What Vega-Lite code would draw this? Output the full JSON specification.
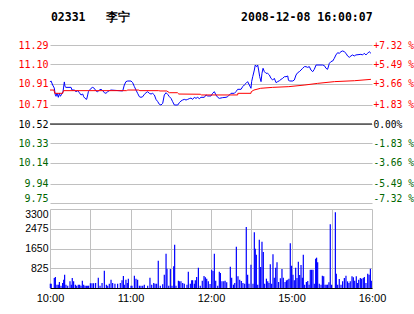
{
  "$schema": "https://vega.github.io/schema/vega-lite/v6.json",
  "background": "white",
  "padding": {"left": 17, "top": 11, "right": 0, "bottom": 0},
  "title": {
    "text": "02331\u00a0\u00a0\u00a0李宁\u00a0\u00a0\u00a0\u00a0\u00a0\u00a0\u00a0\u00a0\u00a0\u00a0\u00a0\u00a0\u00a0\u00a0\u00a0\u00a02008-12-08 16:00:07",
    "anchor": "start",
    "font": "DejaVu Sans Mono",
    "fontSize": 11.5,
    "fontWeight": "bold",
    "color": "#000000",
    "offset": 17,
    "dx": 33
  },
  "spacing": 6,
  "bounds": "flush",
  "config": {
    "view": {"stroke": null},
    "axis": {
      "labelFont": "DejaVu Sans Mono",
      "labelFontSize": 10,
      "ticks": false,
      "domain": false,
      "gridColor": "#C0C0C0",
      "gridOpacity": 1,
      "gridWidth": 1,
      "labelFlush": false,
      "title": null
    }
  },
  "datasets": {
    "price": [
      {"t": 0, "p": 10.93}, {"t": 0.75, "p": 10.94}, {"t": 2, "p": 10.9}, {"t": 3.2, "p": 10.87}, {"t": 4, "p": 10.8},
      {"t": 4.5, "p": 10.79}, {"t": 5.2, "p": 10.82}, {"t": 6.2, "p": 10.78}, {"t": 7, "p": 10.82}, {"t": 7.7, "p": 10.79},
      {"t": 8.7, "p": 10.81}, {"t": 9.7, "p": 10.835}, {"t": 10.7, "p": 10.93}, {"t": 11.2, "p": 10.885}, {"t": 11.9, "p": 10.877},
      {"t": 15.7, "p": 10.877}, {"t": 16.4, "p": 10.851}, {"t": 18.1, "p": 10.851}, {"t": 19.4, "p": 10.835}, {"t": 20.6, "p": 10.845},
      {"t": 21.9, "p": 10.825}, {"t": 23.1, "p": 10.803}, {"t": 24.4, "p": 10.812}, {"t": 25.1, "p": 10.786}, {"t": 26.1, "p": 10.77},
      {"t": 27.3, "p": 10.76}, {"t": 28.1, "p": 10.803}, {"t": 28.6, "p": 10.835}, {"t": 30.6, "p": 10.868}, {"t": 31.8, "p": 10.877},
      {"t": 33, "p": 10.868}, {"t": 34.3, "p": 10.842}, {"t": 35.5, "p": 10.835}, {"t": 36.8, "p": 10.851}, {"t": 38, "p": 10.858},
      {"t": 39.3, "p": 10.845}, {"t": 40.5, "p": 10.825}, {"t": 41.7, "p": 10.819}, {"t": 43, "p": 10.835}, {"t": 44.2, "p": 10.845},
      {"t": 45.5, "p": 10.851}, {"t": 54.2, "p": 10.842}, {"t": 55.4, "p": 10.9}, {"t": 56.6, "p": 10.933}, {"t": 57.9, "p": 10.939},
      {"t": 60.4, "p": 10.939}, {"t": 61.6, "p": 10.923}, {"t": 62.9, "p": 10.884}, {"t": 64.1, "p": 10.851}, {"t": 65.3, "p": 10.819},
      {"t": 66.6, "p": 10.786}, {"t": 67.8, "p": 10.78}, {"t": 69.1, "p": 10.786}, {"t": 70.3, "p": 10.809}, {"t": 71.6, "p": 10.825},
      {"t": 72.8, "p": 10.835}, {"t": 74, "p": 10.819}, {"t": 75.3, "p": 10.812}, {"t": 76.5, "p": 10.819}, {"t": 77.8, "p": 10.803},
      {"t": 79, "p": 10.76}, {"t": 80.3, "p": 10.738}, {"t": 81.5, "p": 10.712}, {"t": 82.7, "p": 10.705}, {"t": 84, "p": 10.721},
      {"t": 85.2, "p": 10.803}, {"t": 86.5, "p": 10.825}, {"t": 87.7, "p": 10.809}, {"t": 89, "p": 10.786}, {"t": 90.2, "p": 10.77},
      {"t": 91.4, "p": 10.738}, {"t": 92.7, "p": 10.705}, {"t": 95.2, "p": 10.705}, {"t": 96.4, "p": 10.728}, {"t": 97.6, "p": 10.744},
      {"t": 98.9, "p": 10.754}, {"t": 100.1, "p": 10.76}, {"t": 101.4, "p": 10.754}, {"t": 102.6, "p": 10.76}, {"t": 103.8, "p": 10.767},
      {"t": 105.1, "p": 10.773}, {"t": 106.3, "p": 10.76}, {"t": 107.6, "p": 10.78}, {"t": 108.8, "p": 10.77}, {"t": 110.1, "p": 10.78},
      {"t": 111.3, "p": 10.767}, {"t": 112.5, "p": 10.78}, {"t": 115, "p": 10.78}, {"t": 116.3, "p": 10.803}, {"t": 117.5, "p": 10.793},
      {"t": 120, "p": 10.793}, {"t": 121.2, "p": 10.819}, {"t": 122.5, "p": 10.835}, {"t": 123.7, "p": 10.803}, {"t": 125, "p": 10.78},
      {"t": 126.2, "p": 10.77}, {"t": 128.7, "p": 10.777}, {"t": 131.2, "p": 10.78}, {"t": 132.4, "p": 10.786}, {"t": 133.7, "p": 10.803},
      {"t": 134.9, "p": 10.819}, {"t": 137.4, "p": 10.819}, {"t": 138.6, "p": 10.835}, {"t": 139.9, "p": 10.858}, {"t": 142.4, "p": 10.858},
      {"t": 143.6, "p": 10.884}, {"t": 144.8, "p": 10.9}, {"t": 146.1, "p": 10.916}, {"t": 147.3, "p": 10.933}, {"t": 148.6, "p": 10.9},
      {"t": 149.8, "p": 10.868}, {"t": 150.3, "p": 10.933}, {"t": 151.1, "p": 10.981}, {"t": 152.3, "p": 11.046}, {"t": 153, "p": 11.095},
      {"t": 154, "p": 11.079}, {"t": 154.8, "p": 11.095}, {"t": 155.5, "p": 11.046}, {"t": 156.3, "p": 10.981}, {"t": 157.3, "p": 10.933},
      {"t": 158, "p": 11.014}, {"t": 158.8, "p": 11.063}, {"t": 159.8, "p": 11.03}, {"t": 161, "p": 11.014}, {"t": 162.2, "p": 11.014},
      {"t": 163.5, "p": 10.998}, {"t": 164.7, "p": 10.965}, {"t": 166, "p": 10.949}, {"t": 167.2, "p": 10.965}, {"t": 168.5, "p": 10.923},
      {"t": 169.7, "p": 10.933}, {"t": 171, "p": 10.942}, {"t": 172.2, "p": 10.955}, {"t": 173.4, "p": 10.965}, {"t": 174.7, "p": 10.981},
      {"t": 175.9, "p": 10.981}, {"t": 177.2, "p": 10.988}, {"t": 177.7, "p": 10.949}, {"t": 178.4, "p": 10.939}, {"t": 180.9, "p": 10.939},
      {"t": 182.1, "p": 10.949}, {"t": 183.4, "p": 10.998}, {"t": 184.6, "p": 11.02}, {"t": 185.8, "p": 11.03}, {"t": 187.1, "p": 11.046},
      {"t": 188.3, "p": 11.063}, {"t": 189.6, "p": 11.079}, {"t": 190.8, "p": 11.079}, {"t": 192, "p": 11.072}, {"t": 193.3, "p": 11.079},
      {"t": 194.5, "p": 11.046}, {"t": 195.8, "p": 11.03}, {"t": 197, "p": 11.053}, {"t": 198.3, "p": 11.095}, {"t": 203.2, "p": 11.095},
      {"t": 204.5, "p": 11.089}, {"t": 205.7, "p": 11.063}, {"t": 206.9, "p": 11.053}, {"t": 208.2, "p": 11.111}, {"t": 209.4, "p": 11.128},
      {"t": 210.7, "p": 11.134}, {"t": 211.9, "p": 11.16}, {"t": 213.1, "p": 11.193}, {"t": 214.4, "p": 11.215}, {"t": 215.6, "p": 11.209},
      {"t": 216.9, "p": 11.225}, {"t": 218.1, "p": 11.232}, {"t": 219.3, "p": 11.225}, {"t": 220.6, "p": 11.209}, {"t": 221.8, "p": 11.183},
      {"t": 223.1, "p": 11.17}, {"t": 224.3, "p": 11.183}, {"t": 225.5, "p": 11.193}, {"t": 226.8, "p": 11.183}, {"t": 228, "p": 11.193},
      {"t": 231.7, "p": 11.199}, {"t": 233, "p": 11.193}, {"t": 234.2, "p": 11.209}, {"t": 235.5, "p": 11.193}, {"t": 236.7, "p": 11.209},
      {"t": 237.9, "p": 11.225}, {"t": 239.2, "p": 11.209}
    ],
    "avg": [
      {"t": 0, "a": 10.851}, {"t": 3, "a": 10.851}, {"t": 3.5, "a": 10.819}, {"t": 9.5, "a": 10.819}, {"t": 10, "a": 10.845},
      {"t": 57, "a": 10.845}, {"t": 58, "a": 10.851}, {"t": 66, "a": 10.851}, {"t": 67, "a": 10.845}, {"t": 81, "a": 10.845},
      {"t": 82, "a": 10.842}, {"t": 87, "a": 10.842}, {"t": 89, "a": 10.825}, {"t": 95, "a": 10.825}, {"t": 96, "a": 10.812},
      {"t": 112, "a": 10.81}, {"t": 113, "a": 10.803}, {"t": 139.9, "a": 10.803}, {"t": 140, "a": 10.819}, {"t": 149.8, "a": 10.819},
      {"t": 150, "a": 10.835}, {"t": 152, "a": 10.851}, {"t": 157, "a": 10.868}, {"t": 166, "a": 10.877}, {"t": 178, "a": 10.884},
      {"t": 190, "a": 10.9}, {"t": 199.5, "a": 10.916}, {"t": 212, "a": 10.933}, {"t": 227, "a": 10.942}, {"t": 239.2, "a": 10.955}
    ],
    "vol": [
      {"t": 0.25, "v": 181}, {"t": 0.9, "v": 181}, {"t": 3.2, "v": 418}, {"t": 4.0, "v": 459}, {"t": 5.2, "v": 139}, {"t": 6.2, "v": 139},
      {"t": 7.0, "v": 250}, {"t": 8.2, "v": 97}, {"t": 9.4, "v": 209}, {"t": 10.2, "v": 348}, {"t": 10.9, "v": 557}, {"t": 11.9, "v": 139},
      {"t": 13.2, "v": 97}, {"t": 14.9, "v": 278}, {"t": 15.9, "v": 139}, {"t": 16.6, "v": 418}, {"t": 17.6, "v": 278}, {"t": 18.9, "v": 139},
      {"t": 19.9, "v": 97}, {"t": 21.1, "v": 139}, {"t": 22.1, "v": 139}, {"t": 23.1, "v": 97}, {"t": 24.1, "v": 306}, {"t": 25.1, "v": 139},
      {"t": 26.1, "v": 97}, {"t": 27.1, "v": 97}, {"t": 28.1, "v": 97}, {"t": 28.8, "v": 97}, {"t": 30.1, "v": 195}, {"t": 31.3, "v": 195},
      {"t": 32.5, "v": 195}, {"t": 34.0, "v": 209}, {"t": 36.0, "v": 432}, {"t": 37.3, "v": 97}, {"t": 38.8, "v": 209}, {"t": 40.5, "v": 724},
      {"t": 42.0, "v": 139}, {"t": 43.0, "v": 97}, {"t": 44.2, "v": 181}, {"t": 45.5, "v": 348}, {"t": 46.7, "v": 209}, {"t": 48.4, "v": 181},
      {"t": 50.4, "v": 181}, {"t": 52.4, "v": 209}, {"t": 53.7, "v": 320}, {"t": 54.7, "v": 501}, {"t": 55.4, "v": 139}, {"t": 56.6, "v": 348},
      {"t": 57.6, "v": 209}, {"t": 58.4, "v": 390}, {"t": 60.4, "v": 97}, {"t": 61.1, "v": 97}, {"t": 62.9, "v": 515}, {"t": 64.1, "v": 390},
      {"t": 65.3, "v": 348}, {"t": 66.6, "v": 97}, {"t": 67.8, "v": 97}, {"t": 69.1, "v": 97}, {"t": 70.3, "v": 139}, {"t": 72.8, "v": 97},
      {"t": 74.5, "v": 432}, {"t": 75.8, "v": 139}, {"t": 77.3, "v": 209}, {"t": 78.3, "v": 181}, {"t": 79.5, "v": 181}, {"t": 80.7, "v": 1141},
      {"t": 82.2, "v": 97}, {"t": 84.0, "v": 153}, {"t": 85.2, "v": 557}, {"t": 86.5, "v": 1434}, {"t": 87.2, "v": 807}, {"t": 88.5, "v": 97},
      {"t": 89.7, "v": 793}, {"t": 90.9, "v": 97}, {"t": 92.2, "v": 905}, {"t": 92.9, "v": 1810}, {"t": 93.9, "v": 97}, {"t": 95.7, "v": 306},
      {"t": 96.4, "v": 278}, {"t": 97.6, "v": 278}, {"t": 98.9, "v": 209}, {"t": 100.1, "v": 181}, {"t": 102.1, "v": 139}, {"t": 103.1, "v": 682},
      {"t": 104.6, "v": 181}, {"t": 105.6, "v": 320}, {"t": 106.3, "v": 320}, {"t": 107.6, "v": 181}, {"t": 108.3, "v": 320}, {"t": 109.3, "v": 459},
      {"t": 110.6, "v": 849}, {"t": 112.0, "v": 97}, {"t": 113.5, "v": 306}, {"t": 114.8, "v": 501}, {"t": 115.8, "v": 445}, {"t": 116.8, "v": 390},
      {"t": 118.0, "v": 278}, {"t": 119.3, "v": 167}, {"t": 120.5, "v": 766}, {"t": 121.5, "v": 710}, {"t": 122.5, "v": 1434}, {"t": 123.5, "v": 306},
      {"t": 125.0, "v": 97}, {"t": 126.2, "v": 682}, {"t": 127.0, "v": 626}, {"t": 128.2, "v": 278}, {"t": 129.5, "v": 278}, {"t": 130.5, "v": 306},
      {"t": 131.7, "v": 237}, {"t": 134.4, "v": 891}, {"t": 135.4, "v": 431}, {"t": 136.7, "v": 139}, {"t": 137.7, "v": 209}, {"t": 138.9, "v": 1726},
      {"t": 140.1, "v": 487}, {"t": 141.4, "v": 348}, {"t": 142.6, "v": 292}, {"t": 143.8, "v": 209}, {"t": 145.1, "v": 181}, {"t": 146.3, "v": 2547},
      {"t": 147.3, "v": 557}, {"t": 148.3, "v": 181}, {"t": 149.8, "v": 974}, {"t": 151.3, "v": 181}, {"t": 152.3, "v": 2325}, {"t": 153.0, "v": 1642},
      {"t": 153.8, "v": 1392}, {"t": 154.8, "v": 139}, {"t": 156.0, "v": 2018}, {"t": 157.0, "v": 877}, {"t": 158.0, "v": 1935}, {"t": 159.0, "v": 1503},
      {"t": 160.0, "v": 181}, {"t": 161.3, "v": 390}, {"t": 162.3, "v": 278}, {"t": 163.2, "v": 209}, {"t": 164.2, "v": 988}, {"t": 165.2, "v": 181},
      {"t": 166.2, "v": 1406}, {"t": 167.2, "v": 431}, {"t": 168.2, "v": 849}, {"t": 169.2, "v": 1072}, {"t": 170.4, "v": 250}, {"t": 171.7, "v": 404},
      {"t": 172.9, "v": 793}, {"t": 173.9, "v": 431}, {"t": 175.2, "v": 250}, {"t": 176.2, "v": 320}, {"t": 177.2, "v": 348}, {"t": 178.1, "v": 390},
      {"t": 179.1, "v": 1865}, {"t": 180.1, "v": 932}, {"t": 181.1, "v": 557}, {"t": 182.1, "v": 320}, {"t": 183.1, "v": 849}, {"t": 184.1, "v": 417},
      {"t": 185.1, "v": 1100}, {"t": 186.1, "v": 543}, {"t": 187.1, "v": 960}, {"t": 188.1, "v": 431}, {"t": 188.8, "v": 1392}, {"t": 189.8, "v": 139},
      {"t": 191.1, "v": 250}, {"t": 192.1, "v": 292}, {"t": 193.1, "v": 139}, {"t": 194.0, "v": 766}, {"t": 195.0, "v": 766}, {"t": 196.0, "v": 766},
      {"t": 197.0, "v": 181}, {"t": 198.0, "v": 1225}, {"t": 198.7, "v": 1267}, {"t": 199.5, "v": 1072}, {"t": 200.7, "v": 181}, {"t": 202.0, "v": 139},
      {"t": 203.0, "v": 515}, {"t": 204.0, "v": 487}, {"t": 205.0, "v": 139}, {"t": 205.9, "v": 139}, {"t": 206.9, "v": 139}, {"t": 207.9, "v": 237},
      {"t": 208.9, "v": 2658}, {"t": 209.9, "v": 139}, {"t": 212.7, "v": 3160}, {"t": 213.4, "v": 598}, {"t": 214.4, "v": 139}, {"t": 215.6, "v": 376},
      {"t": 216.9, "v": 139}, {"t": 218.1, "v": 278}, {"t": 219.4, "v": 417}, {"t": 220.6, "v": 515}, {"t": 221.8, "v": 278}, {"t": 222.8, "v": 209},
      {"t": 223.8, "v": 278}, {"t": 225.1, "v": 487}, {"t": 226.1, "v": 445}, {"t": 227.1, "v": 306}, {"t": 228.3, "v": 487}, {"t": 229.3, "v": 209},
      {"t": 230.1, "v": 348}, {"t": 231.3, "v": 417}, {"t": 232.3, "v": 390}, {"t": 233.5, "v": 417}, {"t": 234.3, "v": 459}, {"t": 235.5, "v": 209},
      {"t": 236.8, "v": 598}, {"t": 237.8, "v": 557}, {"t": 238.8, "v": 807}, {"t": 239.5, "v": 306}
    ]
  },
  "vconcat": [
    {
      "width": 322,
      "height": 158,
      "layer": [
        {
          "data": {"values": [{"base": 10.52}]},
          "mark": {"type": "rule", "color": "#000000", "strokeWidth": 1},
          "encoding": {
            "y": {"field": "base", "type": "quantitative", "scale": {"domain": [9.75, 11.29], "nice": false, "zero": false}, "axis": null}
          }
        },
        {
          "data": {"name": "price"},
          "mark": {"type": "line", "color": "#0000FF", "strokeWidth": 1},
          "encoding": {
            "x": {
              "field": "t", "type": "quantitative",
              "scale": {"domain": [0, 240], "nice": false, "zero": false},
              "axis": {"orient": "bottom", "values": [0, 30, 60, 90, 120, 150, 180, 210, 240], "labels": false, "grid": true, "domain": true, "domainColor": "#000000", "domainWidth": 1}
            },
            "y": {
              "field": "p", "type": "quantitative",
              "scale": {"domain": [9.75, 11.29], "nice": false, "zero": false},
              "axis": {
                "orient": "left",
                "values": [9.75, 9.94, 10.14, 10.33, 10.52, 10.71, 10.91, 11.1, 11.29],
                "format": ".2f",
                "grid": true,
                "labelPadding": 2,
                "labelBaseline": {"condition": {"test": "datum.value < 9.8", "value": "bottom"}, "value": "middle"},
                "labelColor": {"condition": [{"test": "datum.value > 10.53", "value": "#FF0000"}, {"test": "datum.value < 10.51", "value": "#006600"}], "value": "#000000"}
              }
            }
          }
        },
        {
          "data": {"name": "avg"},
          "mark": {"type": "line", "color": "#FF0000", "strokeWidth": 1},
          "encoding": {
            "x": {"field": "t", "type": "quantitative", "axis": null},
            "y": {
              "field": "a", "type": "quantitative",
              "axis": {
                "orient": "right",
                "values": [9.75, 9.94, 10.14, 10.33, 10.52, 10.71, 10.91, 11.1, 11.29],
                "grid": false,
                "labelPadding": 1,
                "labelFontSize": 9.6,
                "labelBaseline": {"condition": {"test": "datum.value < 9.8", "value": "bottom"}, "value": "middle"},
                "labelExpr": "(datum.value > 10.53 ? '+' : datum.value < 10.51 ? '-' : '\u00a0') + format(abs(round((datum.value - 10.52) / 0.1925)) * 1.83, '.2f') + (abs(datum.value - 10.52) < 0.01 ? '%' : ' %')",
                "labelColor": {"condition": [{"test": "datum.value > 10.53", "value": "#FF0000"}, {"test": "datum.value < 10.51", "value": "#006600"}], "value": "#000000"}
              }
            }
          }
        }
      ],
      "resolve": {"axis": {"y": "independent"}}
    },
    {
      "width": 322,
      "height": 79,
      "data": {"name": "vol"},
      "mark": {"type": "rule", "color": "#0000FF", "strokeWidth": 1.2},
      "encoding": {
        "x": {
          "field": "t", "type": "quantitative",
          "scale": {"domain": [0, 240], "nice": false, "zero": false},
          "axis": {
            "orient": "bottom",
            "values": [0, 30, 60, 90, 120, 150, 180, 210, 240],
            "grid": true,
            "domain": true,
            "domainColor": "#000000",
            "labelFont": "Liberation Sans",
            "labelFontSize": 11,
            "labelColor": "#000000",
            "labelPadding": 4,
            "labelExpr": "datum.value == 0 ? '10:00' : datum.value == 60 ? '11:00' : datum.value == 120 ? '12:00' : datum.value == 180 ? '15:00' : datum.value == 240 ? '16:00' : ''"
          }
        },
        "y": {
          "field": "v", "type": "quantitative",
          "scale": {"domain": [0, 3300], "nice": false},
          "axis": {
            "values": [0, 825, 1650, 2475, 3300],
            "grid": true,
            "labelFont": "Liberation Sans",
            "labelFontSize": 10.5,
            "labelColor": "#000000",
            "labelPadding": 2,
            "labelBaseline": {"condition": {"test": "datum.value > 3000", "value": "top"}, "value": "middle"},
            "labelExpr": "datum.value == 0 ? '' : format(datum.value, 'd')"
          }
        },
        "y2": {"datum": 0}
      }
    }
  ]
}
